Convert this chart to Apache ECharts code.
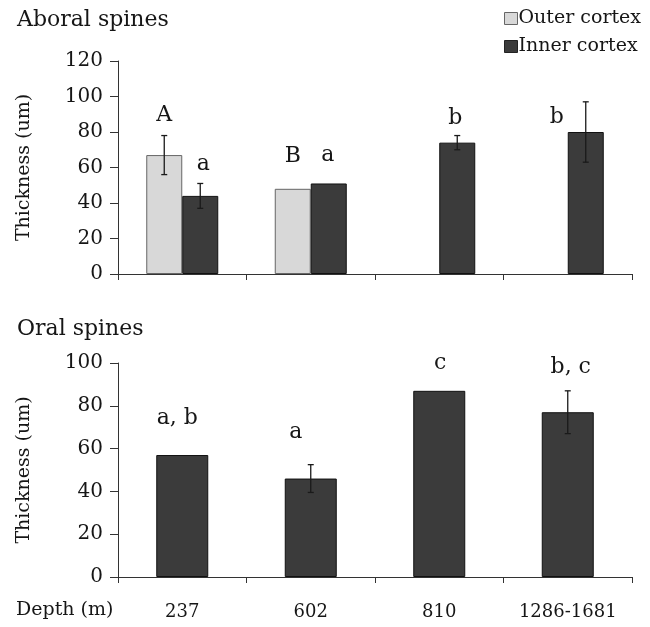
<!DOCTYPE html>
<html>
<head>
<meta charset="utf-8">
<script src="https://cdn.jsdelivr.net/npm/echarts@6/dist/echarts.min.js"></script>
<style>
html,body{margin:0;padding:0;background:#fff;}
#chart{width:650px;height:627px;}
</style>
</head>
<body>
<div id="chart"></div>
<script>
// ---------- data ----------
var categories = ['237', '602', '810', '1286-1681'];
// Aboral spines
var aboralOuter = [67, 48, null, null];
var aboralOuterErr = [11, 0, null, null];
var aboralInner = [44, 51, 74, 80];
var aboralInnerErr = [7, 0, 4, 17];
var aboralOuterLetters = ['A', 'B', '', ''];
var aboralInnerLetters = ['a', 'a', 'b', 'b'];
// Oral spines
var oral = [57, 46, 87, 77];
var oralErr = [0, 6.5, 0, 10];
var oralLetters = ['a, b', 'a', 'c', 'b, c'];
var aboralTicks = [0, 20, 40, 60, 80, 100, 120];
var oralTicks = [0, 20, 40, 60, 80, 100];

// ---------- style ----------
var FONT = 'DejaVu Serif';
var INK = '#161616';
var innerColor = '#3b3b3b';
var outerColor = '#d8d8d8';
var outerLabelStyle = [{d: 40, dx: 0}, {d: 33, dx: 0}, {d: 0, dx: 0}, {d: 0, dx: 0}];
var innerLabelStyle = [{d: 32, dx: 3}, {d: 28, dx: -1}, {d: 24, dx: -2}, {d: 15, dx: -29}];
var oralLabelStyle = [{d: 37, dx: -5}, {d: 46, dx: -15}, {d: 28, dx: 1}, {d: 45, dx: 3}];

function barData(values, letters, styles) {
  return values.map(function (v, i) {
    return {
      value: v,
      label: {
        show: !!letters[i] && v != null,
        formatter: letters[i],
        position: 'top',
        distance: styles[i].d,
        offset: [styles[i].dx, 0],
        verticalAlign: 'middle',
        fontFamily: FONT,
        fontSize: 22,
        color: INK
      }
    };
  });
}

function errData(values, errs) {
  var out = [];
  values.forEach(function (v, i) {
    if (v != null && errs[i]) out.push([i, v - errs[i], v + errs[i]]);
  });
  return out;
}

function errSeries(xAxisIndex, yAxisIndex, data, dxPx) {
  return {
    type: 'custom',
    xAxisIndex: xAxisIndex,
    yAxisIndex: yAxisIndex,
    z: 10,
    silent: true,
    data: data,
    renderItem: function (params, api) {
      var lo = api.coord([api.value(0), api.value(1)]);
      var hi = api.coord([api.value(0), api.value(2)]);
      var x = lo[0] + dxPx;
      var cap = 3;
      var st = {stroke: '#1a1a1a', lineWidth: 1.3};
      return {
        type: 'group',
        children: [
          {type: 'line', shape: {x1: x, y1: lo[1], x2: x, y2: hi[1]}, style: st},
          {type: 'line', shape: {x1: x - cap, y1: hi[1], x2: x + cap, y2: hi[1]}, style: st},
          {type: 'line', shape: {x1: x - cap, y1: lo[1], x2: x + cap, y2: lo[1]}, style: st}
        ]
      };
    }
  };
}

var axisLineStyle = {lineStyle: {color: '#333', width: 1}};

var chart = echarts.init(document.getElementById('chart'), null, {renderer: 'canvas'});
chart.setOption({
  animation: false,
  backgroundColor: '#fff',
  textStyle: {fontFamily: FONT},
  title: [
    {text: 'Aboral spines', left: 12, top: 4, textStyle: {fontFamily: FONT, fontSize: 22, fontWeight: 'normal', color: INK}},
    {text: 'Oral spines', left: 12, top: 313, textStyle: {fontFamily: FONT, fontSize: 22, fontWeight: 'normal', color: INK}},
    {text: 'Depth (m)', left: 11, top: 596, textStyle: {fontFamily: FONT, fontSize: 19, fontWeight: 'normal', color: INK}}
  ],
  legend: {
    orient: 'vertical',
    left: 499,
    top: 4,
    icon: 'rect',
    itemWidth: 13,
    itemHeight: 12,
    itemGap: 9,
    textStyle: {fontFamily: FONT, fontSize: 19, color: INK, padding: [0, 0, 0, -4]},
    data: [
      {name: 'Outer cortex', itemStyle: {color: outerColor, borderColor: '#666', borderWidth: 1}},
      {name: 'Inner cortex', itemStyle: {color: innerColor, borderColor: '#222', borderWidth: 1}}
    ]
  },
  grid: [
    {left: 118, right: 18, top: 61, height: 213},
    {left: 118, right: 18, top: 363, height: 214}
  ],
  xAxis: [
    {type: 'category', gridIndex: 0, data: categories, axisLine: axisLineStyle,
     axisTick: {show: true, length: 6, lineStyle: {color: '#333'}}, axisLabel: {show: false}},
    {type: 'category', gridIndex: 1, data: categories, axisLine: axisLineStyle,
     axisTick: {show: true, length: 6, lineStyle: {color: '#333'}},
     axisLabel: {show: true, margin: 26, fontFamily: FONT, fontSize: 18, color: INK}}
  ],
  yAxis: [
    {type: 'value', gridIndex: 0, min: 0, max: 120, interval: 20,
     name: 'Thickness (um)', nameLocation: 'middle', nameRotate: 90, nameGap: 84,
     nameTextStyle: {fontFamily: FONT, fontSize: 19, color: INK},
     axisLine: {show: true, lineStyle: {color: '#333'}},
     axisTick: {show: true, length: 8, inside: false, lineStyle: {color: '#333'}},
     splitLine: {show: false},
     axisLabel: {margin: 15, fontFamily: FONT, fontSize: 20, color: INK,
       formatter: function (v) { return aboralTicks.indexOf(v) >= 0 ? String(v) : ''; }}},
    {type: 'value', gridIndex: 1, min: 0, max: 100, interval: 20,
     name: 'Thickness (um)', nameLocation: 'middle', nameRotate: 90, nameGap: 84,
     nameTextStyle: {fontFamily: FONT, fontSize: 19, color: INK},
     axisLine: {show: true, lineStyle: {color: '#333'}},
     axisTick: {show: true, length: 8, inside: false, lineStyle: {color: '#333'}},
     splitLine: {show: false},
     axisLabel: {margin: 15, fontFamily: FONT, fontSize: 20, color: INK,
       formatter: function (v) { return oralTicks.indexOf(v) >= 0 ? String(v) : ''; }}}
  ],
  series: [
    {name: 'Outer cortex', type: 'bar', xAxisIndex: 0, yAxisIndex: 0, barWidth: 36, barGap: '0%',
     itemStyle: {color: outerColor, borderColor: '#666', borderWidth: 1},
     data: barData(aboralOuter, aboralOuterLetters, outerLabelStyle)},
    {name: 'Inner cortex', type: 'bar', xAxisIndex: 0, yAxisIndex: 0, barWidth: 36, barGap: '0%',
     itemStyle: {color: innerColor, borderColor: '#111', borderWidth: 1},
     data: barData(aboralInner, aboralInnerLetters, innerLabelStyle)},
    {name: 'Oral', type: 'bar', xAxisIndex: 1, yAxisIndex: 1, barWidth: 52,
     itemStyle: {color: innerColor, borderColor: '#111', borderWidth: 1},
     data: barData(oral, oralLetters, oralLabelStyle)},
    errSeries(0, 0, errData(aboralOuter, aboralOuterErr), -18),
    errSeries(0, 0, errData(aboralInner, aboralInnerErr), 18),
    errSeries(1, 1, errData(oral, oralErr), 0)
  ]
});
</script>
</body>
</html>
